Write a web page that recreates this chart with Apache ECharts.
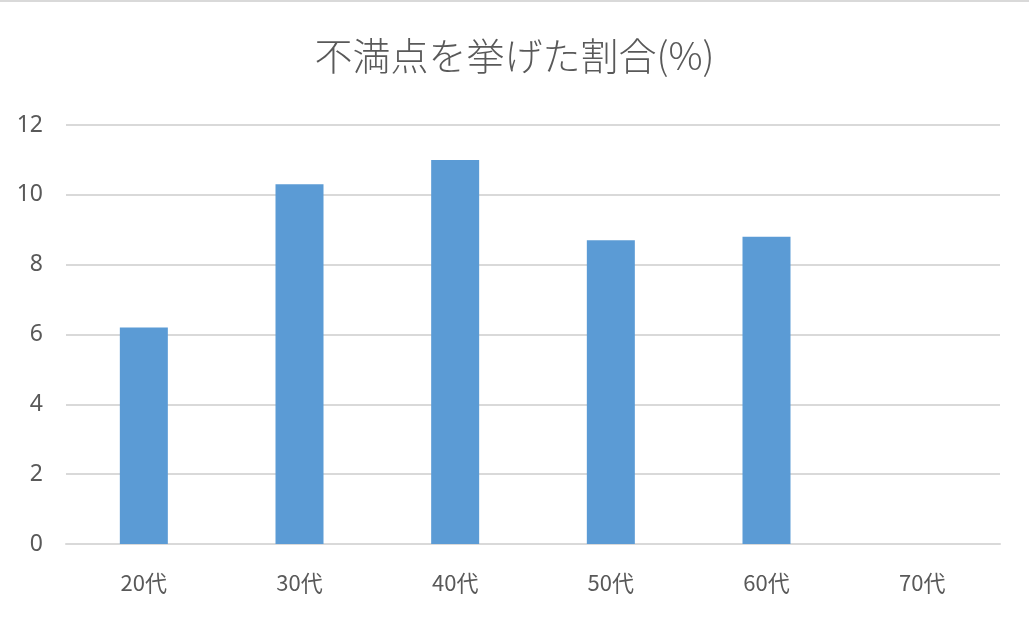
<!DOCTYPE html>
<html><head><meta charset="utf-8">
<script src="https://cdn.jsdelivr.net/npm/echarts@6/dist/echarts.min.js"></script>
<style>html,body{margin:0;padding:0;background:#fff}#c{width:1029px;height:618px;box-sizing:border-box;border-top:2px solid #d9d9d9}</style>
</head><body><div id="c"></div>
<script>
const categories = ['20代','30代','40代','50代','60代','70代'];
const values = [6.2, 10.3, 11.0, 8.7, 8.8, 0];
const yTicks = {min: 0, max: 12, interval: 2};
const chart = echarts.init(document.getElementById('c'));
chart.setOption({
  animation: false,
  title: {text: '不満点を挙げた割合(%)', left: 'center', top: 30,
    textStyle: {fontFamily: 'Noto Sans CJK JP', fontWeight: 300, fontSize: 38, color: '#595959'}},
  grid: {left: 66, right: 29, top: 123, bottom: 74},
  xAxis: {type: 'category', data: categories,
    axisLine: {lineStyle: {color: '#d9d9d9', width: 2}}, axisTick: {show: false},
    axisLabel: {color: '#595959', fontSize: 22, fontFamily: 'Noto Sans CJK JP', margin: 28}},
  yAxis: {type: 'value', min: yTicks.min, max: yTicks.max, interval: yTicks.interval,
    axisLine: {show: false}, axisTick: {show: false},
    splitLine: {lineStyle: {color: '#d9d9d9', width: 2}},
    axisLabel: {color: '#595959', fontSize: 23, fontFamily: 'Noto Sans', margin: 23}},
  series: [{type: 'bar', data: values, barWidth: 48, itemStyle: {color: '#5b9bd5'}}]
});
</script></body></html>
